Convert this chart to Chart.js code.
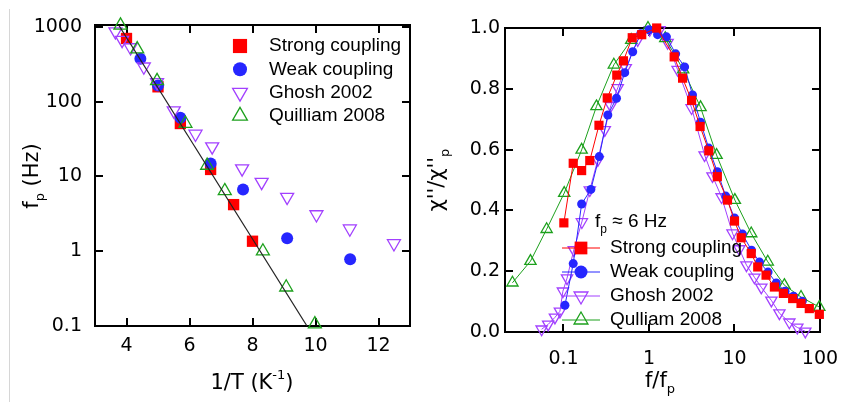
<!DOCTYPE html>
<html>
<head>
<meta charset="utf-8">
<script src="https://cdn.jsdelivr.net/npm/chart.js@4.4.1/dist/chart.umd.min.js"></script>
<style>
  body { margin: 0; background: #fff; }
  #wrap { position: relative; width: 843px; height: 402px; overflow: hidden; }
  #left { position: absolute; left: 0; top: 0; }
  #right { position: absolute; left: 420px; top: 0; }
  .edge { position: absolute; left: 9px; top: 9px; width: 1px; height: 393px; background: #d6d6d6; }
</style>
</head>
<body>
<div id="wrap">
  <div class="edge"></div>
  <canvas id="left" width="420" height="402"></canvas>
  <canvas id="right" width="423" height="402"></canvas>
</div>
<script>
// ---- Arrhenius panel: peak frequency f_p vs 1/T ----
const strongInvT = [4.0, 5.0, 5.71, 6.67, 7.4, 8.0];
const strongFp = [700, 158, 51, 12.4, 4.2, 1.36];
const weakInvT = [4.44, 5.0, 5.71, 6.67, 7.7, 9.1, 11.1];
const weakFp = [374, 165, 61, 14.9, 6.7, 1.49, 0.78];
const ghoshInvT = [3.65, 3.86, 4.13, 4.55, 4.97, 5.5, 6.19, 6.72, 7.67, 8.29, 9.1, 10.03, 11.09, 12.49];
const ghoshFp = [866, 665, 530, 293, 181, 76, 37, 25, 12.7, 8.4, 5.3, 3.1, 2.0, 1.27];
const quilliamInvT = [3.81, 4.34, 4.97, 5.87, 6.56, 7.12, 8.33, 9.07, 9.98];
const quilliamFp = [1050, 505, 190, 51, 14, 6.4, 1.0, 0.33, 0.106];
const fitInvT = [3.75, 9.73];
const fitFp = [1060, 0.1];

const invTTicks = [4, 6, 8, 10, 12];
const fpTicks = [0.1, 1, 10, 100, 1000];
const fpTickLabels = ['0.1', '1', '10', '100', '1000'];

// ---- scaled susceptibility panel: chi''/chi''_p vs f/f_p ----
const strongF = [0.101, 0.130, 0.163, 0.203, 0.260, 0.325, 0.420, 0.502, 0.637, 0.822, 1.23, 1.97, 2.47, 3.15, 3.96, 5.01, 6.30, 8.28, 10.0, 11.97, 15.7, 18.7, 23.4, 29.3, 37.3, 47.9, 60.0, 75.0, 98.2];
const strongChi = [0.359, 0.555, 0.531, 0.564, 0.680, 0.770, 0.845, 0.892, 0.968, 0.978, 1.0, 0.905, 0.835, 0.762, 0.676, 0.596, 0.511, 0.434, 0.365, 0.310, 0.258, 0.214, 0.187, 0.148, 0.127, 0.110, 0.094, 0.077, 0.058];
const weakF = [0.104, 0.130, 0.163, 0.209, 0.262, 0.330, 0.417, 0.52, 0.645, 0.80, 1.0, 1.26, 1.60, 2.05, 2.61, 3.23, 4.0, 5.0, 6.3, 7.9, 10.0, 12.4, 15.8, 19.6, 24.7, 30.8, 39, 49, 62];
const weakChi = [0.088, 0.225, 0.421, 0.469, 0.577, 0.714, 0.769, 0.853, 0.922, 0.981, 0.994, 0.978, 0.971, 0.915, 0.872, 0.78, 0.69, 0.605, 0.527, 0.447, 0.375, 0.322, 0.269, 0.23, 0.197, 0.161, 0.134, 0.118, 0.101];
const ghoshF = [0.0555, 0.0662, 0.0794, 0.0908, 0.0984, 0.110, 0.132, 0.164, 0.203, 0.252, 0.304, 0.357, 0.431, 0.535, 0.738, 1.02, 1.33, 1.65, 2.16, 3.15, 4.47, 5.53, 7.06, 9.48, 11.4, 13.8, 17.1, 20.6, 27.0, 33.5, 43.8, 54.3, 67.3];
const ghoshChi = [0.009, 0.025, 0.048, 0.068, 0.134, 0.177, 0.270, 0.362, 0.467, 0.566, 0.665, 0.744, 0.803, 0.869, 0.961, 0.994, 0.994, 0.952, 0.863, 0.737, 0.582, 0.513, 0.444, 0.325, 0.273, 0.220, 0.180, 0.147, 0.104, 0.062, 0.032, 0.015, 0.002];
const quilliamF = [0.0253, 0.0411, 0.0635, 0.102, 0.163, 0.243, 0.388, 0.620, 0.973, 1.55, 2.51, 4.01, 6.17, 10.1, 15.7, 24.5, 38.3, 60.0, 98.2];
const quilliamChi = [0.162, 0.233, 0.338, 0.457, 0.599, 0.742, 0.879, 0.960, 1.0, 0.966, 0.863, 0.739, 0.582, 0.434, 0.324, 0.231, 0.154, 0.115, 0.082];

const freqTicks = [0.1, 1, 10, 100];
const freqTickLabels = ['0.1', '1', '10', '100'];
const chiTicks = [0, 0.2, 0.4, 0.6, 0.8, 1.0];
const chiTickLabels = ['0.0', '0.2', '0.4', '0.6', '0.8', '1.0'];

const RED = 'rgb(255,0,0)';
const BLUE = 'rgb(38,38,255)';
const PURPLE = 'rgb(162,64,255)';
const GREEN = 'rgb(28,160,28)';
const NONE = 'rgba(0,0,0,0)';
const TICK_FONT = '"DejaVu Sans", sans-serif';
const TEXT_FONT = '"Liberation Sans", Arial, sans-serif';

function toPts(xs, ys) {
  return xs.map((x, i) => ({ x: x, y: ys[i] }));
}

// draws text pieces in a row; 'sub' / 'sup' pieces are smaller and shifted
function richText(ctx, parts, x, y, size, family) {
  const small = Math.round(size * 0.62);
  let w = 0;
  parts.forEach(p => {
    ctx.font = (p[1] ? small : size) + 'px ' + family;
    w += ctx.measureText(p[0]).width;
  });
  let cx = x - w / 2;
  ctx.textAlign = 'left';
  ctx.textBaseline = 'middle';
  parts.forEach(p => {
    ctx.font = (p[1] ? small : size) + 'px ' + family;
    const dy = p[1] === 'sub' ? size * 0.38 : p[1] === 'sup' ? -size * 0.38 : 0;
    ctx.fillText(p[0], cx, y + dy);
    cx += ctx.measureText(p[0]).width;
  });
}

// box frame plus inward ticks on all four sides
const framePlugin = {
  id: 'frame',
  beforeDatasetsDraw(chart, args, opts) {
    const { ctx, chartArea: a } = chart;
    const len = opts.tickLen;
    ctx.save();
    ctx.strokeStyle = '#000';
    ctx.lineWidth = 2;
    ctx.strokeRect(a.left, a.top, a.right - a.left, a.bottom - a.top);
    const xs = chart.scales.x, ys = chart.scales.y;
    ctx.beginPath();
    xs.ticks.forEach(t => {
      const px = Math.round(xs.getPixelForValue(t.value));
      ctx.moveTo(px, a.bottom); ctx.lineTo(px, a.bottom - len);
      ctx.moveTo(px, a.top); ctx.lineTo(px, a.top + len);
    });
    ys.ticks.forEach(t => {
      const py = Math.round(ys.getPixelForValue(t.value));
      ctx.moveTo(a.left, py); ctx.lineTo(a.left + len, py);
      ctx.moveTo(a.right, py); ctx.lineTo(a.right - len, py);
    });
    ctx.stroke();
    ctx.restore();
  },
  afterDraw(chart, args, opts) {
    const ctx = chart.ctx;
    ctx.save();
    ctx.fillStyle = '#000';
    // axis titles
    const xt = opts.xTitle, yt = opts.yTitle;
    richText(ctx, xt.parts, xt.x, xt.y, xt.size, TICK_FONT);
    ctx.translate(yt.x, yt.y);
    ctx.rotate(-Math.PI / 2);
    richText(ctx, yt.parts, 0, 0, yt.size, TICK_FONT);
    ctx.restore();

    // legend
    const lg = opts.legend;
    ctx.save();
    if (lg.header) {
      ctx.fillStyle = '#000';
      const h = lg.header;
      let w = 0;
      h.parts.forEach(p => { ctx.font = (p[1] ? Math.round(lg.size * 0.62) : lg.size) + 'px ' + TEXT_FONT; w += ctx.measureText(p[0]).width; });
      richText(ctx, h.parts, h.x + w / 2, h.y, lg.size, TEXT_FONT);
    }
    lg.items.forEach((it, i) => {
      const y = lg.y0 + i * lg.dy;
      if (lg.lineHalf) {
        ctx.strokeStyle = it.color;
        ctx.lineWidth = 1;
        ctx.beginPath();
        ctx.moveTo(lg.mx - lg.lineHalf, y);
        ctx.lineTo(lg.mx + lg.lineHalf, y);
        ctx.stroke();
      }
      ctx.fillStyle = it.fill;
      ctx.strokeStyle = it.color;
      ctx.lineWidth = it.bw;
      Chart.helpers.drawPoint(ctx, { pointStyle: it.style, rotation: it.rot || 0, radius: it.r, borderWidth: it.bw }, lg.mx, y);
      ctx.fillStyle = '#000';
      ctx.font = lg.size + 'px ' + TEXT_FONT;
      ctx.textAlign = 'left';
      ctx.textBaseline = 'middle';
      ctx.fillText(it.label, lg.tx, y);
    });
    ctx.restore();
  }
};

function axisTicks(values, labels) {
  return {
    font: { family: TICK_FONT, size: 19 },
    color: '#000',
    autoSkip: false,
    maxRotation: 0,
    callback: (v, i) => labels ? labels[i] : String(values[i])
  };
}

function markerSet(label, xs, ys, color, style, r, filled, extra) {
  return Object.assign({
    label: label,
    data: toPts(xs, ys),
    showLine: false,
    pointStyle: style,
    pointRadius: r,
    pointBackgroundColor: filled ? color : NONE,
    pointBorderColor: color,
    pointBorderWidth: filled ? 0 : 1.3,
    borderColor: color,
    borderWidth: 1,
    clip: false
  }, extra || {});
}

// x axes: keep edge labels from pushing the plot area inward
function fixX(height) {
  return s => {
    s.height = height;
    s.paddingLeft = 0;
    s.paddingRight = 0;
  };
}

// left: Arrhenius plot
new Chart(document.getElementById('left'), {
  type: 'scatter',
  data: {
    datasets: [
      { label: 'fit', data: toPts(fitInvT, fitFp), showLine: true, borderColor: '#222', borderWidth: 1.2, pointRadius: 0, order: -1 },
      markerSet('Quilliam 2008', quilliamInvT, quilliamFp, GREEN, 'triangle', 7.5, false, { order: 0 }),
      markerSet('Ghosh 2002', ghoshInvT, ghoshFp, PURPLE, 'triangle', 7.5, false, { order: 1, pointRotation: 180 }),
      markerSet('Weak coupling', weakInvT, weakFp, BLUE, 'circle', 6, true, { order: 2 }),
      markerSet('Strong coupling', strongInvT, strongFp, RED, 'rect', 8, true, { order: 3 })
    ]
  },
  options: {
    responsive: false,
    animation: false,
    events: [],
    layout: { padding: { left: 0, right: 10, top: 25, bottom: 0 } },
    scales: {
      x: {
        type: 'linear', min: 3, max: 13,
        grid: { display: false, drawTicks: false }, border: { display: false },
        ticks: Object.assign(axisTicks(invTTicks), { padding: 9 }),
        afterBuildTicks: s => { s.ticks = invTTicks.map(v => ({ value: v })); },
        afterFit: fixX(76)
      },
      y: {
        type: 'logarithmic', min: 0.1, max: 1060,
        grid: { display: false, drawTicks: false }, border: { display: false },
        ticks: Object.assign(axisTicks(fpTicks, fpTickLabels), { padding: 13 }),
        afterBuildTicks: s => { s.ticks = fpTicks.map(v => ({ value: v })); },
        afterFit: s => { s.width = 95; }
      }
    },
    plugins: {
      legend: { display: false },
      tooltip: { enabled: false },
      frame: {
        tickLen: 8,
        xTitle: { parts: [['1/T (K', ''], ['-1', 'sup'], [')', '']], x: 252, y: 384, size: 21 },
        yTitle: { parts: [['f', ''], ['p', 'sub'], [' (Hz)', '']], x: 33, y: 176, size: 21 },
        legend: {
          size: 19, mx: 240, tx: 269, y0: 46, dy: 23.3,
          items: [
            { label: 'Strong coupling', color: RED, fill: RED, style: 'rect', r: 10, bw: 0 },
            { label: 'Weak coupling', color: BLUE, fill: BLUE, style: 'circle', r: 7, bw: 0 },
            { label: 'Ghosh 2002', color: PURPLE, fill: NONE, style: 'triangle', rot: 180, r: 8.5, bw: 1.3 },
            { label: 'Quilliam 2008', color: GREEN, fill: NONE, style: 'triangle', r: 8.5, bw: 1.3 }
          ]
        }
      }
    }
  },
  plugins: [framePlugin]
});

// right: scaled susceptibility curves
new Chart(document.getElementById('right'), {
  type: 'scatter',
  data: {
    datasets: [
      markerSet('Strong coupling', strongF, strongChi, RED, 'rect', 6.5, true, { showLine: true, order: 0 }),
      markerSet('Weak coupling', weakF, weakChi, BLUE, 'circle', 4.5, true, { showLine: true, order: 1 }),
      markerSet('Qulliam 2008', quilliamF, quilliamChi, GREEN, 'triangle', 6.5, false, { showLine: true, order: 2 }),
      markerSet('Ghosh 2002', ghoshF, ghoshChi, PURPLE, 'triangle', 6.5, false, { showLine: true, order: 3, pointRotation: 180 })
    ]
  },
  options: {
    responsive: false,
    animation: false,
    events: [],
    layout: { padding: { left: 0, right: 23, top: 28, bottom: 0 } },
    scales: {
      x: {
        type: 'logarithmic', min: 0.0207, max: 100,
        grid: { display: false, drawTicks: false }, border: { display: false },
        ticks: Object.assign(axisTicks(freqTicks, freqTickLabels), { padding: 16 }),
        afterBuildTicks: s => { s.ticks = freqTicks.map(v => ({ value: v })); },
        afterFit: fixX(70)
      },
      y: {
        type: 'linear', min: 0, max: 1.0,
        grid: { display: false, drawTicks: false }, border: { display: false },
        ticks: Object.assign(axisTicks(chiTicks, chiTickLabels), { padding: 5 }),
        afterBuildTicks: s => { s.ticks = chiTicks.map(v => ({ value: v })); },
        afterFit: s => { s.width = 85; }
      }
    },
    plugins: {
      legend: { display: false },
      tooltip: { enabled: false },
      frame: {
        tickLen: 8,
        xTitle: { parts: [['f/f', ''], ['p', 'sub']], x: 240, y: 382, size: 21 },
        yTitle: { parts: [["\u03c7''/\u03c7''", ''], ['p', 'sub']], x: 18, y: 180, size: 21 },
        legend: {
          size: 19, mx: 161, tx: 190, y0: 248, dy: 24, lineHalf: 19,
          header: { parts: [['f', ''], ['p', 'sub'], [' \u2248 6 Hz', '']], x: 175, y: 222 },
          items: [
            { label: 'Strong coupling', color: RED, fill: RED, style: 'rect', r: 9, bw: 0 },
            { label: 'Weak coupling', color: BLUE, fill: BLUE, style: 'circle', r: 6.5, bw: 0 },
            { label: 'Ghosh 2002', color: PURPLE, fill: NONE, style: 'triangle', rot: 180, r: 8, bw: 1.3 },
            { label: 'Qulliam 2008', color: GREEN, fill: NONE, style: 'triangle', r: 8, bw: 1.3 }
          ]
        }
      }
    }
  },
  plugins: [framePlugin]
});
</script>
</body>
</html>
